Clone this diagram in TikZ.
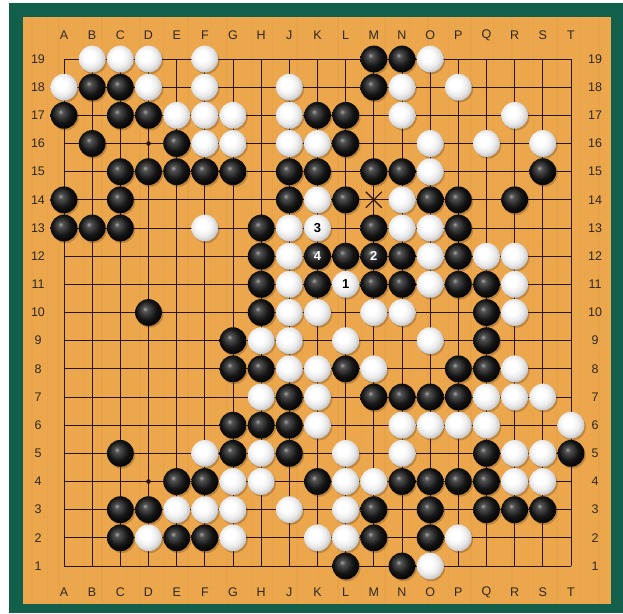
\documentclass[tikz,border=0pt]{standalone}
\usepackage{fontspec}
\setmainfont{Liberation Sans}
\definecolor{wood}{RGB}{236,166,76}
\definecolor{grain}{RGB}{214,140,55}
\definecolor{framec}{RGB}{18,96,76}
\definecolor{gridc}{RGB}{40,20,10}
\definecolor{labc}{RGB}{45,40,35}
\pgfdeclareradialshading{bstone}{\pgfpoint{-7bp}{7bp}}{color(0bp)=(black!35); color(5bp)=(black!68); color(18bp)=(black!92); color(30bp)=(black); color(50bp)=(black)}
\pgfdeclareradialshading{wstone}{\pgfpoint{-7bp}{7bp}}{color(0bp)=(white); color(10bp)=(white); color(20bp)=(black!8); color(28bp)=(black!22); color(36bp)=(black!38); color(50bp)=(black!38)}
\def\cxA{0}\def\cxB{1}\def\cxC{2}\def\cxD{3}\def\cxE{4}\def\cxF{5}\def\cxG{6}\def\cxH{7}\def\cxJ{8}\def\cxK{9}
\def\cxL{10}\def\cxM{11}\def\cxN{12}\def\cxO{13}\def\cxP{14}\def\cxQ{15}\def\cxR{16}\def\cxS{17}\def\cxT{18}
\def\blacks{M/19,N/19,B/18,C/18,M/18,A/17,C/17,D/17,K/17,L/17,B/16,E/16,L/16,
C/15,D/15,E/15,F/15,G/15,J/15,K/15,M/15,N/15,S/15,A/14,C/14,J/14,L/14,O/14,P/14,R/14,
A/13,B/13,C/13,H/13,M/13,P/13,H/12,L/12,N/12,P/12,H/11,K/11,M/11,N/11,P/11,Q/11,
D/10,H/10,Q/10,G/9,Q/9,G/8,H/8,L/8,P/8,Q/8,J/7,M/7,N/7,O/7,P/7,G/6,H/6,J/6,
C/5,G/5,J/5,Q/5,T/5,E/4,F/4,K/4,N/4,O/4,P/4,Q/4,C/3,D/3,M/3,O/3,Q/3,R/3,S/3,
C/2,E/2,F/2,M/2,O/2,L/1,N/1}
\def\whites{B/19,C/19,D/19,F/19,O/19,A/18,D/18,F/18,J/18,N/18,P/18,E/17,F/17,G/17,J/17,N/17,R/17,
F/16,G/16,J/16,K/16,O/16,Q/16,S/16,O/15,K/14,N/14,F/13,J/13,N/13,O/13,J/12,O/12,Q/12,R/12,
J/11,O/11,R/11,J/10,K/10,M/10,N/10,R/10,H/9,J/9,L/9,O/9,J/8,K/8,M/8,R/8,H/7,K/7,Q/7,R/7,S/7,
K/6,N/6,O/6,P/6,Q/6,T/6,F/5,H/5,L/5,N/5,R/5,S/5,G/4,H/4,L/4,M/4,R/4,S/4,E/3,F/3,G/3,J/3,L/3,
D/2,G/2,K/2,L/2,P/2,O/1}
\def\sp{28.1667}
\begin{document}
\begin{tikzpicture}[x=1pt,y=-1pt,
  blackst/.style={circle,minimum size=26.8pt,inner sep=0pt,shading=bstone,text=white,font=\bfseries\fontsize{13}{13}\selectfont},
  whitest/.style={circle,minimum size=26.8pt,inner sep=0pt,shading=wstone,text=black,font=\bfseries\fontsize{13}{13}\selectfont},
  shadowst/.style={fill=black!70!brown,opacity=0.25},
  coordlab/.style={text=labc,font=\fontsize{12.5}{12.5}\selectfont,inner sep=0pt},
  gridline/.style={draw=gridc,line width=0.95pt}]
\useasboundingbox (0,0) rectangle (623,613);
\fill[white] (0,0) rectangle (623,613);
\fill[framec] (9,3) rectangle (623,613);
\fill[wood] (23,17) rectangle (611,604);
% faint wood grain
\foreach \gx/\gw in {31/1.5,47/0.8,58/2.2,83/1.0,101/1.8,126/0.7,139/2.4,163/1.1,187/1.6,210/0.9,226/2.0,251/1.2,272/0.8,296/2.3,318/1.0,337/1.7,361/0.8,384/2.1,409/1.0,427/1.5,448/0.8,470/2.2,493/1.1,511/1.7,533/0.9,556/2.0,579/1.2,598/1.6} {
  \fill[grain,opacity=0.15] (\gx,17) rectangle (\gx+\gw,604);
}
% grid
\foreach \i in {0,...,18} {
  \draw[gridline] ({64+\sp*\i},59) -- ({64+\sp*\i},566);
  \draw[gridline] (64,{59+\sp*\i}) -- (571,{59+\sp*\i});
}
% star points
\foreach \c/\r in {D/16,K/16,Q/16,D/10,K/10,Q/10,D/4,K/4,Q/4} {
  \pgfmathsetmacro\px{64+\sp*\csname cx\c\endcsname}
  \pgfmathsetmacro\py{59+\sp*(19-\r)}
  \fill[gridc] (\px,\py) circle (2.3);
}
% coordinate labels
\foreach \c in {A,B,C,D,E,F,G,H,J,K,L,M,N,O,P,Q,R,S,T} {
  \pgfmathsetmacro\px{64+\sp*\csname cx\c\endcsname}
  \node[coordlab] (top\c) at (\px,35) {\c};
  \node[coordlab] (bot\c) at (\px,592) {\c};
}
\foreach \r in {1,...,19} {
  \pgfmathsetmacro\py{59+\sp*(19-\r)}
  \node[coordlab] (left\r) at (38,\py) {\r};
  \node[coordlab] (right\r) at (595,\py) {\r};
}
% shadows
\foreach \c/\r in \blacks {
  \pgfmathsetmacro\px{64+\sp*\csname cx\c\endcsname}
  \pgfmathsetmacro\py{59+\sp*(19-\r)}
  \fill[shadowst] (\px+1.4,\py+1.8) circle (13.4);
}
\foreach \c/\r in \whites {
  \pgfmathsetmacro\px{64+\sp*\csname cx\c\endcsname}
  \pgfmathsetmacro\py{59+\sp*(19-\r)}
  \fill[shadowst] (\px+1.4,\py+1.8) circle (13.4);
}
\foreach \c/\r in {K/13,K/12,L/11,M/12} {
  \pgfmathsetmacro\px{64+\sp*\csname cx\c\endcsname}
  \pgfmathsetmacro\py{59+\sp*(19-\r)}
  \fill[shadowst] (\px+1.4,\py+1.8) circle (13.4);
}
% stones
\foreach \c/\r in \blacks {
  \pgfmathsetmacro\px{64+\sp*\csname cx\c\endcsname}
  \pgfmathsetmacro\py{59+\sp*(19-\r)}
  \node[blackst] (b\c\r) at (\px,\py) {};
}
\foreach \c/\r in \whites {
  \pgfmathsetmacro\px{64+\sp*\csname cx\c\endcsname}
  \pgfmathsetmacro\py{59+\sp*(19-\r)}
  \node[whitest] (w\c\r) at (\px,\py) {};
}
% numbered stones
\node[whitest] (wL11) at ({64+\sp*10},{59+\sp*8}) {1};
\node[blackst] (bM12) at ({64+\sp*11},{59+\sp*7}) {2};
\node[whitest] (wK13) at ({64+\sp*9},{59+\sp*6}) {3};
\node[blackst] (bK12) at ({64+\sp*9},{59+\sp*7}) {4};
% mark at M14
\coordinate (xM14) at ({64+\sp*11},{59+\sp*5});
\draw[gridc,line width=1.1pt] ([shift={(-8,-8)}]xM14) -- ([shift={(8,8)}]xM14);
\draw[gridc,line width=1.1pt] ([shift={(-8,8)}]xM14) -- ([shift={(8,-8)}]xM14);
\end{tikzpicture}
\end{document}
